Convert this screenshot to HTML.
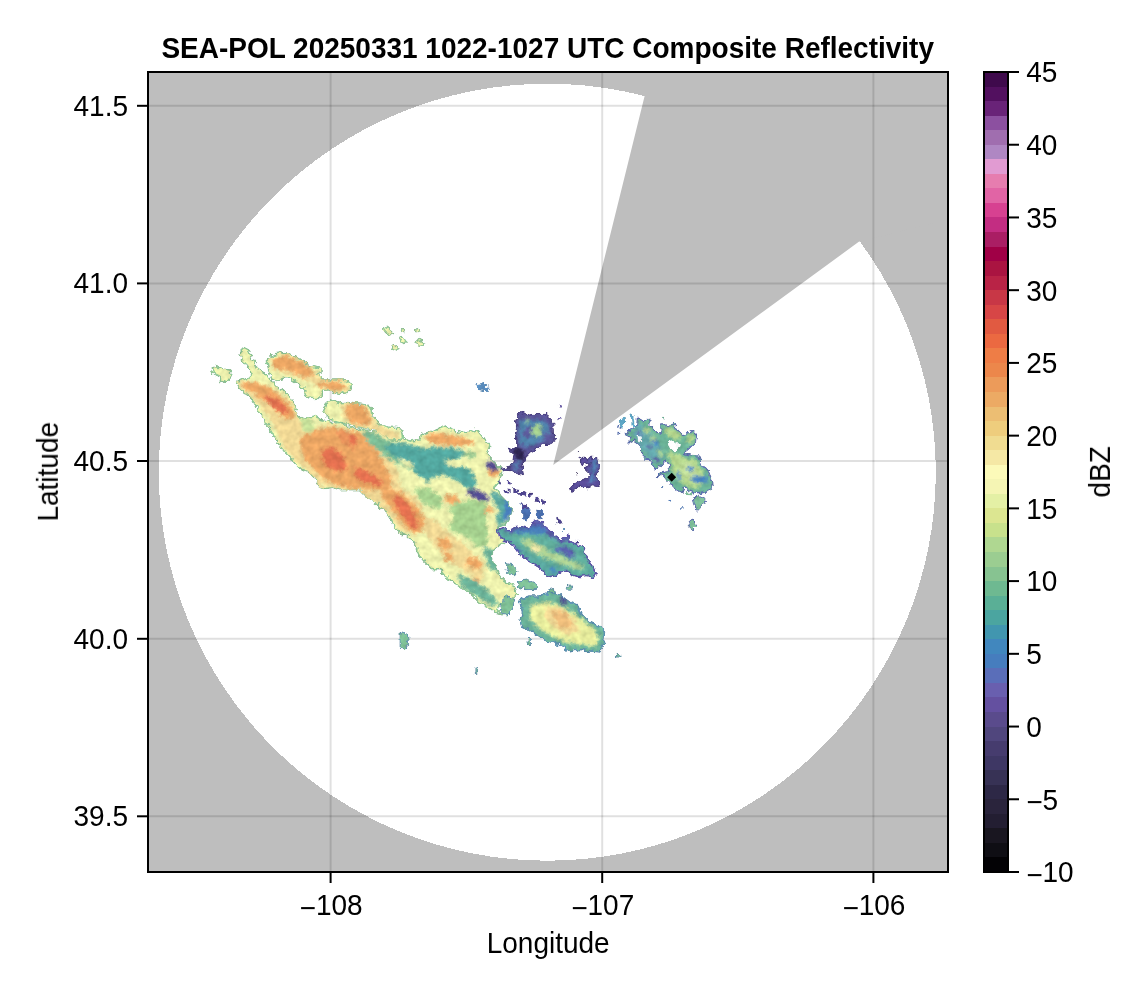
<!DOCTYPE html><html><head><meta charset="utf-8"><style>
html,body{margin:0;padding:0;background:#fff;}
body{width:1146px;height:990px;overflow:hidden;position:relative;}
svg{position:absolute;left:0;top:0;}
text{will-change:transform;}
text{font-family:"Liberation Sans",sans-serif;fill:#000;}
</style></head><body>
<svg width="1146" height="990" viewBox="0 0 1146 990">

<rect x="148" y="72" width="800" height="800" fill="#bebebe"/>
<clipPath id="axclip"><rect x="148" y="72" width="800" height="800"/></clipPath>
<g clip-path="url(#axclip)">
<circle cx="547.3" cy="472.2" r="388.5" fill="#fff" shape-rendering="crispEdges"/>
<polygon points="553.2,465.0 645.0,94.5 685.0,-105.5 1258.8,141.8 858.8,241.8" fill="#bebebe"/>
<line x1="148" y1="105.8" x2="948" y2="105.8" stroke="rgba(0,0,0,0.12)" stroke-width="2"/>
<line x1="148" y1="283.4" x2="948" y2="283.4" stroke="rgba(0,0,0,0.12)" stroke-width="2"/>
<line x1="148" y1="461.0" x2="948" y2="461.0" stroke="rgba(0,0,0,0.12)" stroke-width="2"/>
<line x1="148" y1="638.8" x2="948" y2="638.8" stroke="rgba(0,0,0,0.12)" stroke-width="2"/>
<line x1="148" y1="816.3" x2="948" y2="816.3" stroke="rgba(0,0,0,0.12)" stroke-width="2"/>
<line x1="330.6" y1="72" x2="330.6" y2="872" stroke="rgba(0,0,0,0.12)" stroke-width="2"/>
<line x1="602.2" y1="72" x2="602.2" y2="872" stroke="rgba(0,0,0,0.12)" stroke-width="2"/>
<line x1="873.4" y1="72" x2="873.4" y2="872" stroke="rgba(0,0,0,0.12)" stroke-width="2"/>
<filter id="rough" x="140" y="250" width="700" height="500" filterUnits="userSpaceOnUse"><feTurbulence type="fractalNoise" baseFrequency="0.22" numOctaves="2" seed="7" result="t"/><feDisplacementMap in="SourceGraphic" in2="t" scale="6.0" xChannelSelector="R" yChannelSelector="G" result="d"/><feTurbulence type="fractalNoise" baseFrequency="0.16" numOctaves="2" seed="11" result="n"/><feColorMatrix in="n" type="matrix" values="1 0 0 0 0  1 0 0 0 0  1 0 0 0 0  0 0 0 0 1" result="nm"/><feComposite in="d" in2="nm" operator="arithmetic" k1="0.5" k2="0.75" k3="0" k4="0" result="tx"/><feComposite in="tx" in2="d" operator="in"/></filter>
<g id="echoes" filter="url(#rough)">
<filter id="soft" x="-5%" y="-5%" width="110%" height="110%"><feGaussianBlur stdDeviation="1.6"/></filter>
<clipPath id="envclip"><polygon points="211.2,368.6 215.0,366.2 220.0,367.9 223.7,369.9 229.9,371.1 231.9,374.9 228.7,378.6 226.2,382.4 221.2,381.1 218.7,376.1 213.7,373.6"/><polygon points="236.2,382.4 241.2,379.9 248.7,378.6 252.4,374.9 249.9,369.9 244.9,363.7 241.2,357.4 238.7,352.4 243.7,347.4 248.7,349.9 251.2,357.4 254.9,362.4 258.6,369.9 263.6,372.4 267.4,376.1 272.4,382.4 277.4,387.4 282.4,389.9 286.1,393.6 289.8,397.3 293.6,403.6 296.1,409.8 298.6,416.1 302.3,419.8 307.3,417.3 314.8,416.1 322.3,419.8 328.5,421.1 332.3,423.6 339.8,422.3 349.7,427.3 362.2,429.8 374.7,432.3 387.2,429.8 397.2,428.5 402.1,432.3 403.4,438.5 409.6,441.0 419.6,439.8 422.1,433.5 429.6,432.3 437.1,428.5 445.8,426.0 452.1,429.8 459.5,432.3 469.5,432.3 477.0,429.8 484.9,440.0 489.8,445.0 487.3,455.0 494.8,462.5 502.3,469.9 499.8,479.9 494.8,486.2 499.8,494.9 507.3,502.4 512.3,509.9 509.8,517.4 504.8,524.9 497.3,527.3 502.3,534.8 504.8,542.3 494.8,547.3 492.3,557.3 494.8,564.8 499.8,574.8 504.8,582.3 512.3,584.7 517.3,594.7 509.8,599.7 504.8,602.2 499.8,604.7 497.3,609.7 502.3,614.7 507.3,614.7 494.8,612.2 487.3,606.0 479.9,602.2 472.4,594.7 464.9,589.7 459.9,587.2 449.9,579.8 444.9,576.0 439.9,569.8 432.4,569.8 425.0,562.3 418.7,554.8 415.0,544.8 410.0,537.3 400.0,532.3 397.2,529.6 392.2,524.6 389.7,517.1 384.7,509.7 379.7,507.2 375.9,503.4 369.7,499.7 364.7,494.7 359.7,489.7 349.7,489.7 339.8,489.7 332.3,487.2 324.8,488.4 319.8,487.2 317.3,482.2 313.6,477.2 311.1,474.7 307.3,471.0 299.8,468.5 296.1,464.7 289.8,457.2 284.9,452.3 279.9,446.0 276.1,439.8 272.4,433.5 268.6,427.3 263.6,419.8 259.9,412.3 256.2,406.1 251.2,398.6 247.4,394.9 242.4,391.1 238.7,387.4"/><polygon points="267.4,358.7 274.9,353.7 284.9,352.4 292.3,354.9 298.6,358.7 304.8,362.4 311.1,366.2 316.0,367.4 321.0,368.6 321.0,372.4 317.3,373.6 322.3,379.9 332.3,379.9 343.5,379.9 349.7,382.4 351.0,388.6 347.2,392.4 339.8,393.6 329.8,391.1 322.3,389.9 322.3,396.1 317.3,398.6 309.8,398.6 304.8,394.9 304.8,389.9 299.8,384.9 296.1,382.4 288.6,377.4 282.4,378.6 274.9,381.1 271.1,377.4 268.6,369.9 267.4,363.7"/><polygon points="323.5,411.1 327.3,402.3 332.3,399.8 338.5,403.6 344.7,402.3 354.7,403.6 366.0,404.8 372.2,407.3 372.2,414.8 375.9,419.8 379.7,424.8 389.7,427.3 397.2,427.3 402.1,429.8 403.4,437.3 397.2,441.0 389.7,439.8 384.7,434.8 374.7,429.8 364.7,428.5 354.7,426.0 349.7,424.8 339.8,422.3 332.3,419.8 326.0,416.1"/><polygon points="383.4,328.7 387.2,327.0 392.2,331.2 394.7,333.7 390.9,335.0 385.9,333.0"/><polygon points="399.7,338.0 402.6,337.0 405.9,341.2 404.1,343.7 400.9,341.2"/><polygon points="415.9,341.2 419.6,339.4 424.6,341.9 423.4,345.4 418.4,344.9"/><polygon points="390.9,346.2 394.2,344.9 398.4,348.7 396.7,351.2 392.7,349.4"/><polygon points="414.6,329.5 417.6,328.5 419.6,332.0 416.6,333.0"/><polygon points="400.9,330.5 402.6,329.0 404.1,332.0 402.1,333.0"/><polygon points="517.2,413.9 522.2,412.2 526.7,415.6 532.2,414.4 547.8,414.4 548.3,417.8 552.8,422.2 553.3,433.3 556.1,436.7 553.3,442.2 548.9,444.4 543.3,444.4 537.8,447.8 531.1,451.1 527.8,454.4 525.6,456.7 524.4,460.0 522.2,466.7 523.3,474.4 521.1,475.6 516.7,473.3 513.3,471.1 510.0,469.4 504.4,471.1 501.1,469.4 505.6,468.3 511.1,466.7 512.8,462.2 514.4,452.2 510.0,452.2 508.3,446.7 513.3,448.9 516.7,446.7 516.7,438.9 515.6,432.2 516.7,425.6 514.4,421.1 517.8,418.9"/><polygon points="580.0,457.8 584.4,456.1 587.2,460.0 590.0,457.2 596.7,457.8 597.2,462.2 599.4,466.7 597.8,472.2 595.6,476.7 600.6,483.3 597.8,486.7 591.1,485.6 586.7,488.9 584.4,486.7 580.0,486.7 575.6,488.9 571.1,491.1 570.6,487.8 573.3,484.4 577.8,482.2 582.2,480.0 586.7,477.8 590.0,474.4 585.6,470.0 584.4,467.8 588.9,465.6 591.1,462.2 586.7,463.3 582.2,465.6 580.6,462.2"/><polygon points="637.2,417.2 642.2,420.6 650.0,420.0 650.0,425.6 657.8,432.2 661.1,433.3 660.6,423.9 663.9,423.9 667.2,426.7 673.3,423.3 677.8,430.0 683.3,435.6 687.8,433.3 693.3,431.1 696.7,434.4 695.6,442.2 688.9,448.9 683.3,453.3 691.1,455.0 698.9,456.1 700.6,462.2 705.0,467.8 710.0,473.9 711.7,480.0 712.2,487.8 704.4,492.2 697.8,493.9 691.1,490.6 684.4,487.8 682.2,493.3 676.7,490.0 671.1,484.4 666.7,480.0 662.2,474.4 656.1,477.2 660.0,472.8 667.8,471.7 670.0,466.7 666.7,461.1 660.0,465.6 654.4,470.0 654.4,465.6 651.1,460.0 643.3,458.9 644.4,455.6 641.1,451.1 642.2,447.8 637.8,443.3 633.3,440.0 631.1,443.3 628.9,441.1 630.0,436.7 624.4,434.4 628.9,431.1 633.3,428.3 636.7,425.6"/><polygon points="693.3,497.8 700.0,496.7 706.7,500.0 703.3,504.4 700.0,510.0 696.7,510.0 694.4,503.3"/><polygon points="688.6,520.9 693.1,519.6 696.1,525.9 692.6,529.6 689.4,527.1"/><polygon points="503.3,527.8 508.9,530.0 514.4,527.8 522.2,526.7 528.3,528.3 531.1,523.3 537.8,521.1 543.3,522.2 545.6,527.8 551.1,532.2 556.7,536.7 561.1,540.0 567.8,535.6 570.0,541.1 578.9,545.6 583.3,547.8 584.4,553.3 587.8,560.0 593.3,567.8 596.1,573.3 593.3,577.8 586.7,575.6 578.9,576.7 570.0,574.4 567.8,570.0 561.1,571.1 556.7,574.4 551.1,577.8 545.6,574.4 542.2,570.0 537.8,566.7 532.2,563.3 528.9,560.0 523.3,557.8 518.9,552.2 515.6,547.8 510.0,542.2 504.4,540.0 500.0,536.7 496.7,531.1 498.9,528.9"/><polygon points="506.1,563.5 513.6,564.8 517.3,571.0 513.6,576.0 507.3,572.3"/><polygon points="517.3,581.0 527.3,579.8 538.5,584.7 537.3,589.7 524.8,589.7 518.5,587.2"/><polygon points="499.8,602.2 507.3,596.0 514.8,599.7 512.3,609.7 507.3,614.7 502.3,612.2"/><polygon points="400.0,632.2 407.5,634.7 408.7,644.6 405.0,649.6 400.0,647.1"/><polygon points="548.5,589.7 553.5,588.5 554.7,594.7 549.7,596.0"/><polygon points="567.2,586.0 573.4,586.0 573.4,589.2 567.2,589.2"/><polygon points="474.9,668.4 477.9,667.6 477.9,673.3 474.9,673.3"/><polygon points="528.0,639.7 530.3,639.2 530.5,644.6 528.0,644.6"/><polygon points="615.9,652.1 619.6,653.4 620.1,657.1 616.6,657.1"/><polygon points="519.8,599.7 529.8,596.0 539.8,596.0 549.7,592.2 559.7,594.7 569.7,602.2 577.2,604.7 582.2,614.7 589.7,622.2 599.7,625.9 604.6,632.2 603.4,644.6 599.7,652.1 589.7,650.9 579.7,649.6 569.7,652.1 559.7,644.6 549.7,642.1 539.8,638.4 534.8,634.7 529.8,629.7 522.3,627.2 519.8,619.7 522.3,612.2"/></clipPath>
<polygon fill="#eef2ae" stroke="#8cc494" stroke-width="1.5" stroke-linejoin="round" points="211.2,368.6 215.0,366.2 220.0,367.9 223.7,369.9 229.9,371.1 231.9,374.9 228.7,378.6 226.2,382.4 221.2,381.1 218.7,376.1 213.7,373.6"/>
<polygon fill="#eef2ae" stroke="#8cc494" stroke-width="1.5" stroke-linejoin="round" points="236.2,382.4 241.2,379.9 248.7,378.6 252.4,374.9 249.9,369.9 244.9,363.7 241.2,357.4 238.7,352.4 243.7,347.4 248.7,349.9 251.2,357.4 254.9,362.4 258.6,369.9 263.6,372.4 267.4,376.1 272.4,382.4 277.4,387.4 282.4,389.9 286.1,393.6 289.8,397.3 293.6,403.6 296.1,409.8 298.6,416.1 302.3,419.8 307.3,417.3 314.8,416.1 322.3,419.8 328.5,421.1 332.3,423.6 339.8,422.3 349.7,427.3 362.2,429.8 374.7,432.3 387.2,429.8 397.2,428.5 402.1,432.3 403.4,438.5 409.6,441.0 419.6,439.8 422.1,433.5 429.6,432.3 437.1,428.5 445.8,426.0 452.1,429.8 459.5,432.3 469.5,432.3 477.0,429.8 484.9,440.0 489.8,445.0 487.3,455.0 494.8,462.5 502.3,469.9 499.8,479.9 494.8,486.2 499.8,494.9 507.3,502.4 512.3,509.9 509.8,517.4 504.8,524.9 497.3,527.3 502.3,534.8 504.8,542.3 494.8,547.3 492.3,557.3 494.8,564.8 499.8,574.8 504.8,582.3 512.3,584.7 517.3,594.7 509.8,599.7 504.8,602.2 499.8,604.7 497.3,609.7 502.3,614.7 507.3,614.7 494.8,612.2 487.3,606.0 479.9,602.2 472.4,594.7 464.9,589.7 459.9,587.2 449.9,579.8 444.9,576.0 439.9,569.8 432.4,569.8 425.0,562.3 418.7,554.8 415.0,544.8 410.0,537.3 400.0,532.3 397.2,529.6 392.2,524.6 389.7,517.1 384.7,509.7 379.7,507.2 375.9,503.4 369.7,499.7 364.7,494.7 359.7,489.7 349.7,489.7 339.8,489.7 332.3,487.2 324.8,488.4 319.8,487.2 317.3,482.2 313.6,477.2 311.1,474.7 307.3,471.0 299.8,468.5 296.1,464.7 289.8,457.2 284.9,452.3 279.9,446.0 276.1,439.8 272.4,433.5 268.6,427.3 263.6,419.8 259.9,412.3 256.2,406.1 251.2,398.6 247.4,394.9 242.4,391.1 238.7,387.4"/>
<polygon fill="#eef2ae" stroke="#8cc494" stroke-width="1.5" stroke-linejoin="round" points="267.4,358.7 274.9,353.7 284.9,352.4 292.3,354.9 298.6,358.7 304.8,362.4 311.1,366.2 316.0,367.4 321.0,368.6 321.0,372.4 317.3,373.6 322.3,379.9 332.3,379.9 343.5,379.9 349.7,382.4 351.0,388.6 347.2,392.4 339.8,393.6 329.8,391.1 322.3,389.9 322.3,396.1 317.3,398.6 309.8,398.6 304.8,394.9 304.8,389.9 299.8,384.9 296.1,382.4 288.6,377.4 282.4,378.6 274.9,381.1 271.1,377.4 268.6,369.9 267.4,363.7"/>
<polygon fill="#eef2ae" stroke="#8cc494" stroke-width="1.5" stroke-linejoin="round" points="323.5,411.1 327.3,402.3 332.3,399.8 338.5,403.6 344.7,402.3 354.7,403.6 366.0,404.8 372.2,407.3 372.2,414.8 375.9,419.8 379.7,424.8 389.7,427.3 397.2,427.3 402.1,429.8 403.4,437.3 397.2,441.0 389.7,439.8 384.7,434.8 374.7,429.8 364.7,428.5 354.7,426.0 349.7,424.8 339.8,422.3 332.3,419.8 326.0,416.1"/>
<polygon fill="#eef2ae" stroke="#8cc494" stroke-width="1.2" stroke-linejoin="round" points="383.4,328.7 387.2,327.0 392.2,331.2 394.7,333.7 390.9,335.0 385.9,333.0"/>
<polygon fill="#eef2ae" stroke="#8cc494" stroke-width="1.2" stroke-linejoin="round" points="399.7,338.0 402.6,337.0 405.9,341.2 404.1,343.7 400.9,341.2"/>
<polygon fill="#eef2ae" stroke="#8cc494" stroke-width="1.2" stroke-linejoin="round" points="415.9,341.2 419.6,339.4 424.6,341.9 423.4,345.4 418.4,344.9"/>
<polygon fill="#eef2ae" stroke="#8cc494" stroke-width="1.2" stroke-linejoin="round" points="390.9,346.2 394.2,344.9 398.4,348.7 396.7,351.2 392.7,349.4"/>
<polygon fill="#eef2ae" stroke="#8cc494" stroke-width="1.2" stroke-linejoin="round" points="414.6,329.5 417.6,328.5 419.6,332.0 416.6,333.0"/>
<polygon fill="#eef2ae" stroke="#8cc494" stroke-width="1.2" stroke-linejoin="round" points="400.9,330.5 402.6,329.0 404.1,332.0 402.1,333.0"/>
<polygon fill="#5a5498" stroke="#4a3f80" stroke-width="1.2" stroke-linejoin="round" points="517.2,413.9 522.2,412.2 526.7,415.6 532.2,414.4 547.8,414.4 548.3,417.8 552.8,422.2 553.3,433.3 556.1,436.7 553.3,442.2 548.9,444.4 543.3,444.4 537.8,447.8 531.1,451.1 527.8,454.4 525.6,456.7 524.4,460.0 522.2,466.7 523.3,474.4 521.1,475.6 516.7,473.3 513.3,471.1 510.0,469.4 504.4,471.1 501.1,469.4 505.6,468.3 511.1,466.7 512.8,462.2 514.4,452.2 510.0,452.2 508.3,446.7 513.3,448.9 516.7,446.7 516.7,438.9 515.6,432.2 516.7,425.6 514.4,421.1 517.8,418.9"/>
<polygon fill="#5a4e9a" stroke="#4a3f80" stroke-width="1.2" stroke-linejoin="round" points="580.0,457.8 584.4,456.1 587.2,460.0 590.0,457.2 596.7,457.8 597.2,462.2 599.4,466.7 597.8,472.2 595.6,476.7 600.6,483.3 597.8,486.7 591.1,485.6 586.7,488.9 584.4,486.7 580.0,486.7 575.6,488.9 571.1,491.1 570.6,487.8 573.3,484.4 577.8,482.2 582.2,480.0 586.7,477.8 590.0,474.4 585.6,470.0 584.4,467.8 588.9,465.6 591.1,462.2 586.7,463.3 582.2,465.6 580.6,462.2"/>
<polygon fill="#6cb498" stroke="#5a6ab0" stroke-width="1.2" stroke-linejoin="round" points="637.2,417.2 642.2,420.6 650.0,420.0 650.0,425.6 657.8,432.2 661.1,433.3 660.6,423.9 663.9,423.9 667.2,426.7 673.3,423.3 677.8,430.0 683.3,435.6 687.8,433.3 693.3,431.1 696.7,434.4 695.6,442.2 688.9,448.9 683.3,453.3 691.1,455.0 698.9,456.1 700.6,462.2 705.0,467.8 710.0,473.9 711.7,480.0 712.2,487.8 704.4,492.2 697.8,493.9 691.1,490.6 684.4,487.8 682.2,493.3 676.7,490.0 671.1,484.4 666.7,480.0 662.2,474.4 656.1,477.2 660.0,472.8 667.8,471.7 670.0,466.7 666.7,461.1 660.0,465.6 654.4,470.0 654.4,465.6 651.1,460.0 643.3,458.9 644.4,455.6 641.1,451.1 642.2,447.8 637.8,443.3 633.3,440.0 631.1,443.3 628.9,441.1 630.0,436.7 624.4,434.4 628.9,431.1 633.3,428.3 636.7,425.6"/>
<polygon fill="#7cbc98" stroke="#5a6ab0" stroke-width="1" stroke-linejoin="round" points="693.3,497.8 700.0,496.7 706.7,500.0 703.3,504.4 700.0,510.0 696.7,510.0 694.4,503.3"/>
<polygon fill="#7cbc98" stroke="#5a6ab0" stroke-width="1" stroke-linejoin="round" points="688.6,520.9 693.1,519.6 696.1,525.9 692.6,529.6 689.4,527.1"/>
<polygon fill="#5aa8a0" stroke="#5a50a8" stroke-width="1.5" stroke-linejoin="round" points="503.3,527.8 508.9,530.0 514.4,527.8 522.2,526.7 528.3,528.3 531.1,523.3 537.8,521.1 543.3,522.2 545.6,527.8 551.1,532.2 556.7,536.7 561.1,540.0 567.8,535.6 570.0,541.1 578.9,545.6 583.3,547.8 584.4,553.3 587.8,560.0 593.3,567.8 596.1,573.3 593.3,577.8 586.7,575.6 578.9,576.7 570.0,574.4 567.8,570.0 561.1,571.1 556.7,574.4 551.1,577.8 545.6,574.4 542.2,570.0 537.8,566.7 532.2,563.3 528.9,560.0 523.3,557.8 518.9,552.2 515.6,547.8 510.0,542.2 504.4,540.0 500.0,536.7 496.7,531.1 498.9,528.9"/>
<polygon fill="#7fc096" stroke="#5c8fb0" stroke-width="1" stroke-linejoin="round" points="506.1,563.5 513.6,564.8 517.3,571.0 513.6,576.0 507.3,572.3"/>
<polygon fill="#7fc096" stroke="#5c8fb0" stroke-width="1" stroke-linejoin="round" points="517.3,581.0 527.3,579.8 538.5,584.7 537.3,589.7 524.8,589.7 518.5,587.2"/>
<polygon fill="#7fc096" stroke="#5c8fb0" stroke-width="1" stroke-linejoin="round" points="499.8,602.2 507.3,596.0 514.8,599.7 512.3,609.7 507.3,614.7 502.3,612.2"/>
<polygon fill="#7fc096" stroke="#5c8fb0" stroke-width="1" stroke-linejoin="round" points="400.0,632.2 407.5,634.7 408.7,644.6 405.0,649.6 400.0,647.1"/>
<polygon fill="#7fc096" stroke="#5c8fb0" stroke-width="1" stroke-linejoin="round" points="548.5,589.7 553.5,588.5 554.7,594.7 549.7,596.0"/>
<polygon fill="#7fc096" stroke="#5c8fb0" stroke-width="1" stroke-linejoin="round" points="567.2,586.0 573.4,586.0 573.4,589.2 567.2,589.2"/>
<polygon fill="#7fc096" stroke="#5c8fb0" stroke-width="1" stroke-linejoin="round" points="474.9,668.4 477.9,667.6 477.9,673.3 474.9,673.3"/>
<polygon fill="#7fc096" stroke="#5c8fb0" stroke-width="1" stroke-linejoin="round" points="528.0,639.7 530.3,639.2 530.5,644.6 528.0,644.6"/>
<polygon fill="#7fc096" stroke="#5c8fb0" stroke-width="1" stroke-linejoin="round" points="615.9,652.1 619.6,653.4 620.1,657.1 616.6,657.1"/>
<polygon fill="#6cb49a" stroke="#5a8fb0" stroke-width="1.5" stroke-linejoin="round" points="519.8,599.7 529.8,596.0 539.8,596.0 549.7,592.2 559.7,594.7 569.7,602.2 577.2,604.7 582.2,614.7 589.7,622.2 599.7,625.9 604.6,632.2 603.4,644.6 599.7,652.1 589.7,650.9 579.7,649.6 569.7,652.1 559.7,644.6 549.7,642.1 539.8,638.4 534.8,634.7 529.8,629.7 522.3,627.2 519.8,619.7 522.3,612.2"/>
<g clip-path="url(#envclip)"><g filter="url(#soft)">
<polygon fill="#f0d894" points="269.9,359.9 284.9,354.4 297.3,358.7 309.8,366.2 317.3,372.4 317.3,376.1 324.8,381.1 344.7,381.1 349.2,386.1 346.0,391.9 329.8,390.4 317.3,387.4 307.3,381.1 297.3,377.4 284.9,373.6 273.6,369.9"/>
<polygon fill="#f0d894" points="237.4,382.9 249.9,380.4 262.4,383.6 274.9,389.9 286.1,397.3 294.8,408.6 298.6,419.8 309.8,427.3 329.8,424.8 349.7,428.5 369.7,434.8 384.7,449.8 397.2,469.7 399.7,484.7 412.1,504.7 419.6,519.6 417.1,534.6 399.7,529.6 389.7,514.6 379.7,504.7 362.2,494.7 339.8,489.7 319.8,484.7 309.8,472.2 294.8,459.7 282.4,444.8 274.9,427.3 267.4,414.8 257.4,402.3 247.4,392.4"/>
<polygon fill="#f0d894" points="341.0,403.6 359.7,404.8 371.0,412.3 374.7,423.6 389.7,429.8 399.7,434.8 397.2,439.8 384.7,436.0 369.7,429.8 349.7,424.8 342.3,417.3"/>
<polygon fill="#f0d894" points="430.0,433.3 443.3,431.7 456.7,435.0 470.0,438.3 476.7,443.3 466.7,446.7 450.0,445.8 436.7,445.0"/>
<polygon fill="#f0d894" points="388.3,488.3 405.0,490.0 420.0,503.3 426.7,516.7 423.3,531.7 413.3,531.7 403.3,526.7 396.7,516.7 390.0,503.3"/>
<polygon fill="#f0d894" points="420.0,514.9 434.9,519.9 449.9,534.8 464.9,544.8 474.9,557.3 484.9,569.8 482.4,579.8 469.9,574.8 454.9,564.8 439.9,552.3 429.9,539.8 422.5,527.3"/>
<polygon fill="#eba664" points="272.4,358.7 284.9,354.9 294.8,358.7 304.8,363.7 312.3,369.9 314.8,374.9 307.3,377.4 299.8,376.1 292.3,371.1 282.4,369.9 274.9,368.6"/>
<polygon fill="#eba664" points="317.3,382.4 329.8,381.1 342.3,382.4 347.2,387.4 339.8,391.1 327.3,388.6 319.8,386.1"/>
<polygon fill="#eba664" points="239.9,383.6 249.9,382.4 259.9,383.6 269.9,387.4 279.9,394.9 287.3,402.3 293.6,409.8 294.8,417.3 287.3,419.8 279.9,414.8 272.4,407.3 262.4,399.8 252.4,392.4 243.7,388.6"/>
<polygon fill="#eba664" points="350.0,430.0 360.0,431.7 370.0,443.3 380.0,455.0 385.0,470.0 386.7,483.3 378.3,486.7 366.7,483.3 356.7,478.3 350.0,473.3"/>
<polygon fill="#eba664" points="390.0,490.0 400.0,490.8 410.0,500.0 420.0,510.0 425.0,521.7 421.7,531.7 411.7,530.0 403.3,523.3 396.7,513.3 391.7,501.7"/>
<polygon fill="#eba664" points="350.0,401.7 360.0,403.3 368.3,410.0 370.0,420.0 363.3,423.3 355.0,420.0 350.0,415.0"/>
<polygon fill="#eba664" points="436.7,435.8 450.0,436.7 463.3,439.2 470.0,441.7 465.0,445.0 450.0,444.2 438.3,442.5"/>
<polygon fill="#eba664" points="445.0,495.0 456.7,495.0 460.0,501.7 451.7,504.2 445.0,501.7"/>
<polygon fill="#eba664" points="478.3,505.0 490.0,506.7 493.3,511.7 483.3,513.3 478.3,510.0"/>
<polygon fill="#eba664" points="486.7,470.0 498.3,470.0 500.0,475.8 491.7,477.5"/>
<polygon fill="#eba664" points="346.0,406.1 359.7,407.3 368.5,414.8 371.0,423.6 362.2,426.0 349.7,421.8 346.0,414.8"/>
<polygon fill="#eba664" points="379.7,484.7 389.7,487.2 399.7,494.7 409.6,504.7 419.6,517.1 422.1,529.6 414.6,534.6 404.6,527.1 397.2,517.1 389.7,507.2 382.2,497.2"/>
<polygon fill="#eba664" points="304.8,434.8 317.3,429.8 332.3,427.3 344.7,429.8 354.7,436.0 364.7,444.8 374.7,454.7 384.7,464.7 392.2,479.7 389.7,489.7 379.7,489.7 364.7,489.7 349.7,488.4 334.8,484.7 324.8,479.7 314.8,469.7 304.8,459.7 301.1,449.8 299.8,439.8"/>
<polygon fill="#eba664" points="424.6,434.8 439.6,433.5 459.5,437.3 474.5,439.8 472.0,444.8 449.6,446.0 429.6,442.3"/>
<polygon fill="#e8935c" points="337.3,429.8 349.7,432.3 357.2,442.3 354.7,449.8 344.7,444.8 338.5,437.3"/>
<polygon fill="#eba664" points="437.7,538.3 447.7,537.5 451.8,546.7 446.0,550.8 438.5,546.7"/>
<polygon fill="#eba664" points="466.0,558.3 479.3,557.5 483.5,565.8 474.3,569.2 466.8,565.0"/>
<polygon fill="#eba664" points="467.7,578.3 477.7,577.5 480.2,584.2 471.0,585.8"/>
<polygon fill="#eba664" points="442.7,553.3 451.0,552.5 453.5,560.8 446.0,562.5"/>
<polygon fill="#e2704f" points="264.9,394.9 274.9,397.3 284.9,404.8 289.8,412.3 282.4,413.6 272.4,407.3 266.1,401.1"/>
<polygon fill="#e2704f" points="355.0,466.7 366.7,471.7 378.3,478.3 383.3,485.0 375.0,485.8 363.3,481.7 355.0,476.7"/>
<polygon fill="#e2704f" points="350.0,433.3 355.0,435.0 356.7,443.3 350.0,445.0"/>
<polygon fill="#e2704f" points="393.3,495.0 401.7,498.3 408.3,506.7 411.7,516.7 406.7,520.0 400.0,513.3 395.0,503.3"/>
<polygon fill="#e2704f" points="399.7,497.2 407.1,502.2 414.6,514.6 418.4,527.1 412.1,529.6 404.6,517.1 399.7,507.2"/>
<polygon fill="#e2704f" points="322.3,449.8 332.3,447.3 342.3,454.7 347.2,467.2 339.8,472.2 327.3,467.2 322.3,459.7"/>
<polygon fill="#e2704f" points="357.2,469.7 369.7,472.2 379.7,479.7 377.2,484.7 364.7,482.2 358.5,476.0"/>
<polygon fill="#a6d18f" points="416.7,490.0 426.7,488.3 436.7,493.3 443.3,503.3 440.0,510.0 430.0,506.7 420.0,500.0"/>
<polygon fill="#a6d18f" points="460.0,510.0 471.7,508.3 483.3,516.7 488.3,530.0 486.7,546.7 476.7,546.7 466.7,536.7 456.7,533.3 450.0,530.0 450.0,523.3 458.3,520.0"/>
<polygon fill="#a6d18f" points="449.6,504.7 469.5,499.7 486.0,502.2 486.0,544.6 469.5,539.6 454.6,527.1"/>
<polygon fill="#a6d18f" points="415.0,487.4 429.9,488.7 442.4,497.4 437.4,506.1 422.5,503.6"/>
<polygon fill="#c6e09a" points="300.0,418.3 310.0,417.5 315.0,426.7 311.7,433.3 303.3,431.7"/>
<polygon fill="#5aa8a0" points="489.3,491.7 496.0,493.3 511.0,503.3 512.7,513.3 504.3,523.3 499.3,526.7 496.0,521.7 499.3,511.7 494.3,501.7"/>
<polygon fill="#7cbd96" points="363.3,430.0 373.3,431.7 383.3,438.3 391.7,443.3 391.7,450.0 400.0,456.7 408.3,463.3 415.0,466.7 413.3,470.0 403.3,466.7 393.3,461.7 383.3,455.0 373.3,446.7 365.0,438.3"/>
<polygon fill="#52a8a0" points="391.7,443.3 405.0,443.3 416.7,446.7 426.7,448.3 436.7,446.7 450.0,448.3 463.3,450.0 466.7,453.3 456.7,460.0 443.3,460.0 450.0,466.7 463.3,466.7 470.0,470.0 473.3,475.0 476.7,483.3 473.3,490.0 466.7,488.3 456.7,480.0 450.0,476.7 440.0,475.0 430.0,478.3 428.3,483.3 423.3,478.3 415.0,473.3 413.3,466.7 405.0,463.3 396.7,458.3 388.3,451.7 383.3,446.7"/>
<polygon fill="#eef2ae" points="445.0,462.0 453.3,461.3 460.0,464.2 458.3,466.3 450.0,465.8"/>
<polygon fill="#9ccc94" points="463.3,452.5 470.0,450.8 476.7,455.0 473.3,458.3 466.7,457.5"/>
<polygon fill="#eef2ae" points="400.0,458.3 410.0,461.7 415.0,466.7 406.7,466.7 398.3,461.7"/>
<polygon fill="#4a80c0" points="502.7,498.3 511.0,503.3 512.7,513.3 506.0,521.7 502.7,516.7 506.0,508.3"/>
<polygon fill="#4f4790" points="466.7,490.0 476.7,490.0 486.7,495.0 490.0,500.0 483.3,501.7 473.3,496.7 466.7,493.3"/>
<polygon fill="#4f4790" points="491.7,462.5 496.7,464.2 497.5,467.5 492.5,466.7"/>
<polygon fill="#4f4790" points="487.3,460.0 494.8,463.7 498.6,469.9 492.3,471.2 486.1,466.2"/>
<polygon fill="#6cb49a" points="457.4,574.8 474.9,579.8 489.8,592.2 499.8,604.7 489.8,604.7 474.9,594.7 462.4,587.2"/>
<polygon fill="#6cb49a" points="482.4,547.3 494.8,549.8 499.8,569.8 489.8,569.8"/>
<polygon fill="#4f84ac" points="520.0,421.1 526.7,418.9 533.3,420.0 542.2,420.0 548.9,424.4 550.0,433.3 546.7,440.0 540.0,442.2 532.2,445.6 526.7,446.7 521.1,444.4 518.3,436.7 518.9,428.9"/>
<polygon fill="#5d5a9e" points="524.4,427.8 530.0,426.7 532.2,433.3 528.9,437.8 523.3,436.7"/>
<polygon fill="#5d5a9e" points="542.2,433.3 548.9,432.2 551.1,437.8 545.6,441.1"/>
<polygon fill="#a8d490" points="532.2,426.7 537.8,424.4 542.2,427.8 540.6,435.6 535.6,436.7 532.2,433.3"/>
<polygon fill="#98cc90" points="525.0,418.9 527.8,418.3 528.9,421.7 526.1,422.8"/>
<polygon fill="#2e2852" points="513.3,447.8 518.9,446.7 524.4,452.2 525.6,457.8 522.2,462.2 516.7,460.0 514.4,454.4"/>
<polygon fill="#4f7caa" points="513.3,462.2 518.9,462.2 520.0,467.8 516.7,470.0 513.3,467.8"/>
<polygon fill="#4f86b4" points="591.1,460.0 595.6,460.6 596.7,466.7 594.4,473.3 594.4,480.0 592.2,484.4 588.9,482.2 591.1,476.7 592.2,468.9"/>
<polygon fill="#64a8ac" points="637.8,422.2 642.2,424.4 647.8,428.9 652.2,435.6 657.8,442.2 662.2,448.9 664.4,457.8 660.0,462.2 653.3,462.2 646.7,455.6 642.2,448.9 636.7,442.2 633.3,435.6 635.6,428.9"/>
<polygon fill="#b0d490" points="643.3,427.8 647.8,427.2 650.0,432.2 646.7,434.4 643.9,432.2"/>
<polygon fill="#b0d490" points="650.0,436.7 654.4,435.6 656.7,441.1 653.3,443.3 650.6,441.1"/>
<polygon fill="#a8d090" points="657.8,448.9 662.2,450.0 663.3,455.6 658.9,456.7"/>
<polygon fill="#6050a8" points="636.7,428.9 640.0,431.1 641.1,435.6 638.9,436.7"/>
<polygon fill="#6050a8" points="646.7,444.4 651.1,446.7 652.2,448.9 647.8,448.3"/>
<polygon fill="#6050a8" points="652.2,456.7 657.8,457.8 658.9,462.2 654.4,461.1"/>
<polygon fill="#b6d88e" points="664.4,428.9 671.1,426.7 677.8,432.2 682.2,437.8 677.8,440.0 671.1,437.8 666.7,435.6"/>
<polygon fill="#b6d88e" points="666.7,452.2 675.6,452.2 682.2,456.7 688.9,458.9 695.6,460.0 700.0,466.7 704.4,473.3 703.3,480.0 697.8,488.9 691.1,487.8 684.4,484.4 677.8,480.0 673.3,473.3 671.1,464.4"/>
<polygon fill="#b6d88e" points="687.8,435.6 693.3,433.3 694.4,440.0 690.0,444.4 686.7,442.2"/>
<polygon fill="#c8e4a0" points="682.2,462.2 688.9,462.2 695.6,466.7 697.8,475.6 693.3,480.0 686.7,477.8 682.2,471.1"/>
<polygon fill="#4a86c6" points="691.1,476.7 706.7,475.6 707.8,482.2 700.0,483.3 692.2,482.2"/>
<polygon fill="#4a86c6" points="686.7,466.7 693.3,466.1 693.9,471.1 688.9,472.8"/>
<polygon fill="#4a86c6" points="676.7,472.2 680.0,471.1 680.6,478.9 677.8,480.0"/>
<polygon fill="#4a86c6" points="653.3,438.9 657.8,440.0 658.9,446.7 654.4,445.6"/>
<polygon fill="#5a50a8" points="503.3,527.8 508.9,530.0 514.4,527.8 522.2,526.7 528.3,528.3 531.1,523.3 537.8,521.1 543.3,522.2 545.6,527.8 551.1,532.2 556.7,536.7 561.1,540.0 567.8,535.6 570.0,541.1 561.1,542.2 552.2,537.8 543.3,532.2 534.4,530.0 523.3,531.1 512.2,532.2 504.4,532.2"/>
<polygon fill="#4a80bc" points="514.4,530.0 523.3,528.9 530.0,527.8 536.7,525.6 543.3,526.7 547.8,532.2 542.2,534.4 532.2,533.3 523.3,534.4 515.6,534.4"/>
<polygon fill="#62b09e" points="510.0,534.4 521.1,533.3 532.2,534.4 543.3,536.7 552.2,541.1 561.1,545.6 570.0,550.0 578.9,552.2 585.6,558.9 591.1,568.9 587.8,574.4 578.9,573.3 570.0,571.1 561.1,567.8 552.2,565.6 543.3,561.1 534.4,556.7 525.6,552.2 517.8,545.6 512.2,540.0"/>
<polygon fill="#b0d494" points="521.1,540.0 527.8,538.3 536.7,543.3 545.6,547.8 552.2,552.8 561.1,555.6 570.0,559.4 578.9,563.9 584.4,567.8 581.1,570.0 574.4,568.3 565.6,565.6 556.7,562.2 547.8,558.9 538.9,554.4 530.0,550.0 524.4,544.4"/>
<polygon fill="#f0e8a8" points="531.1,545.6 537.8,544.4 541.1,550.0 536.7,553.3 532.2,551.1"/>
<polygon fill="#5a60b0" points="555.6,546.7 563.3,545.6 572.2,550.0 575.6,556.7 570.0,557.8 562.2,553.3 556.7,551.1"/>
<polygon fill="#4a86c6" points="550.0,567.8 555.6,567.8 556.1,572.8 551.1,573.3"/>
<polygon fill="#4a60b0" points="515.6,547.8 520.0,548.9 522.2,552.2 517.8,552.2"/>
<polygon fill="#e8ee9e" points="529.8,604.7 549.7,602.2 564.7,607.2 579.7,617.2 592.2,627.2 599.7,637.2 594.7,647.1 579.7,644.6 564.7,642.1 549.7,634.7 537.3,627.2 529.8,617.2"/>
<polygon fill="#f0d894" points="544.7,607.2 562.2,607.2 574.7,619.7 579.7,632.2 567.2,634.7 552.2,627.2 544.7,617.2"/>
<polygon fill="#eebd7c" points="552.2,609.7 564.7,612.2 572.2,622.2 569.7,629.7 559.7,627.2 553.5,619.7"/>
<polygon fill="#4f4790" points="559.7,596.0 566.0,597.2 567.2,603.5 562.2,604.7"/>
</g></g>
<polygon fill="#6a5ca8" points="557.8,404.4 560.6,405.0 560.9,407.8 558.3,407.6"/>
<polygon fill="#6a5ca8" points="557.8,417.8 560.2,418.3 561.1,421.1 558.7,420.6"/>
<polygon fill="#2e2852" points="575.6,472.2 578.3,472.2 578.9,475.0 576.1,475.6"/>
<polygon fill="#3e3764" points="577.8,451.1 579.4,451.3 579.2,452.8 577.8,452.6"/>
<polygon fill="#ffffff" points="667.8,442.2 673.3,441.1 680.0,444.4 678.9,450.0 672.2,450.0 668.3,446.7"/>
<polygon fill="#ffffff" points="637.2,435.6 641.7,436.7 642.2,441.7 638.3,442.2"/>
<polygon fill="#5fa8c8" points="618.9,418.9 625.6,417.8 626.1,422.2 623.3,426.7 621.1,428.9 619.4,424.4"/>
<polygon fill="#5fa8c8" points="630.0,413.3 633.3,414.4 634.4,422.2 633.9,426.7 631.7,426.1 631.1,420.0"/>
<polygon fill="#4f6ab0" points="616.7,431.7 620.0,431.7 620.6,434.4 617.2,434.7"/>
<polygon fill="#4f6ab0" points="617.2,425.6 618.9,425.6 619.1,427.8 617.4,427.8"/>
<polygon fill="#6cb498" points="662.2,416.7 663.9,416.7 664.2,420.6 662.4,420.6"/>
<polygon fill="#4f7ab8" points="660.0,486.1 663.3,486.1 663.3,487.8 660.0,487.8"/>
<polygon fill="#4f7ab8" points="668.9,498.9 671.1,498.9 671.1,500.6 668.9,500.6"/>
<polygon fill="#4f7ab8" points="680.0,507.2 682.8,507.2 682.8,508.7 680.0,508.7"/>
<polygon fill="#7cbc98" points="685.6,491.1 692.2,492.2 692.2,495.6 686.7,495.0"/>
<polygon fill="#4f4590" points="520.0,491.7 525.6,492.2 525.0,495.0 520.6,495.0"/>
<polygon fill="#2e2852" points="528.9,492.8 532.2,492.8 532.0,495.0 529.1,495.0"/>
<polygon fill="#4f4590" points="534.4,496.7 538.9,497.2 537.8,502.2 534.4,501.1"/>
<polygon fill="#4f4590" points="541.1,498.9 545.0,500.0 544.4,505.6 541.3,505.0"/>
<polygon fill="#4a70b0" points="520.0,503.3 525.6,504.4 530.6,511.1 528.9,518.9 525.6,521.1 522.2,516.7 522.2,510.0"/>
<polygon fill="#4a70b0" points="536.1,510.6 540.6,511.1 543.9,514.4 541.1,519.4 537.2,517.8"/>
<polygon fill="#4f4590" points="556.1,517.8 561.1,518.9 562.2,523.3 557.8,524.4"/>
<polygon fill="#4f86b4" points="562.2,527.8 563.9,527.8 563.9,531.1 562.2,531.1"/>
<polygon fill="#4f4590" points="575.6,540.6 578.9,541.7 578.3,543.9 575.6,542.8"/>
<polygon fill="#4f4590" points="497.8,481.1 500.6,481.7 501.1,484.4 498.3,484.4"/>
<polygon fill="#4f4590" points="506.7,480.0 510.0,481.1 511.1,484.4 506.7,484.4"/>
<polygon fill="#4f4590" points="503.3,490.0 508.9,489.4 510.0,492.2 504.4,492.8"/>
<polygon fill="#4f4590" points="513.3,488.9 520.0,490.0 518.9,492.8 513.3,492.2"/>
<polygon fill="#4f4590" points="518.9,492.2 526.7,493.3 525.6,496.7 519.4,495.6"/>
<polygon fill="#4f4590" points="528.9,493.3 531.7,493.3 531.7,496.7 528.9,496.7"/>
<polygon fill="#4f4590" points="535.6,496.7 538.9,496.7 537.8,499.4 535.6,498.9"/>
<polygon fill="#4f4590" points="541.1,498.9 545.0,500.0 543.9,505.6 541.1,505.0"/>
<polygon fill="#4f4590" points="521.1,503.3 526.7,503.9 527.8,508.9 522.2,508.9"/>
<polygon fill="#5a8ec0" points="476.0,384.0 482.0,383.0 490.0,388.0 488.0,392.0 478.0,390.0"/>
</g>
<polygon fill="#000" points="671.7,472.8 676.1,477.2 671.7,481.7 667.2,477.2"/>
</g>
<rect x="148" y="72" width="800" height="800" fill="none" stroke="#000" stroke-width="2"/>
<line x1="137" y1="105.8" x2="148" y2="105.8" stroke="#000" stroke-width="2"/>
<text transform="translate(128,115.8) scale(1,1.04)" font-size="28" text-anchor="end">41.5</text>
<line x1="137" y1="283.4" x2="148" y2="283.4" stroke="#000" stroke-width="2"/>
<text transform="translate(128,293.4) scale(1,1.04)" font-size="28" text-anchor="end">41.0</text>
<line x1="137" y1="461.0" x2="148" y2="461.0" stroke="#000" stroke-width="2"/>
<text transform="translate(128,471.0) scale(1,1.04)" font-size="28" text-anchor="end">40.5</text>
<line x1="137" y1="638.8" x2="148" y2="638.8" stroke="#000" stroke-width="2"/>
<text transform="translate(128,648.8) scale(1,1.04)" font-size="28" text-anchor="end">40.0</text>
<line x1="137" y1="816.3" x2="148" y2="816.3" stroke="#000" stroke-width="2"/>
<text transform="translate(128,826.3) scale(1,1.04)" font-size="28" text-anchor="end">39.5</text>
<line x1="330.6" y1="872" x2="330.6" y2="883" stroke="#000" stroke-width="2"/>
<text transform="translate(331.1,915) scale(1,1.04)" font-size="28" text-anchor="middle"><tspan dy="2.7">−</tspan><tspan dy="-2.7">108</tspan></text>
<line x1="602.2" y1="872" x2="602.2" y2="883" stroke="#000" stroke-width="2"/>
<text transform="translate(602.7,915) scale(1,1.04)" font-size="28" text-anchor="middle"><tspan dy="2.7">−</tspan><tspan dy="-2.7">107</tspan></text>
<line x1="873.4" y1="872" x2="873.4" y2="883" stroke="#000" stroke-width="2"/>
<text transform="translate(873.9,915) scale(1,1.04)" font-size="28" text-anchor="middle"><tspan dy="2.7">−</tspan><tspan dy="-2.7">106</tspan></text>
<text transform="translate(547.7,57.8) scale(1,1.07)" font-size="28" font-weight="bold" text-anchor="middle">SEA-POL 20250331 1022-1027 UTC Composite Reflectivity</text>
<text transform="translate(548.2,953.2) scale(1,1.04)" font-size="28" text-anchor="middle">Longitude</text>
<text transform="translate(57.9,471.7) rotate(-90) scale(1,1.04)" font-size="28" text-anchor="middle">Latitude</text>
<text transform="translate(1110,471.8) rotate(-90) scale(1,1.04)" font-size="28" text-anchor="middle">dBZ</text>
<linearGradient id="cbg" x1="0" y1="1" x2="0" y2="0"><stop offset="0.000%" stop-color="#030205"/><stop offset="1.818%" stop-color="#030205"/><stop offset="1.818%" stop-color="#0f0e14"/><stop offset="3.636%" stop-color="#0f0e14"/><stop offset="3.636%" stop-color="#191620"/><stop offset="5.455%" stop-color="#191620"/><stop offset="5.455%" stop-color="#231e32"/><stop offset="7.273%" stop-color="#231e32"/><stop offset="7.273%" stop-color="#2a243c"/><stop offset="9.091%" stop-color="#2a243c"/><stop offset="9.091%" stop-color="#2d2846"/><stop offset="10.909%" stop-color="#2d2846"/><stop offset="10.909%" stop-color="#373255"/><stop offset="12.727%" stop-color="#373255"/><stop offset="12.727%" stop-color="#3e3764"/><stop offset="14.545%" stop-color="#3e3764"/><stop offset="14.545%" stop-color="#463c6e"/><stop offset="16.364%" stop-color="#463c6e"/><stop offset="16.364%" stop-color="#50467d"/><stop offset="18.182%" stop-color="#50467d"/><stop offset="18.182%" stop-color="#5a4b8c"/><stop offset="20.000%" stop-color="#5a4b8c"/><stop offset="20.000%" stop-color="#6450a0"/><stop offset="21.818%" stop-color="#6450a0"/><stop offset="21.818%" stop-color="#695faf"/><stop offset="23.636%" stop-color="#695faf"/><stop offset="23.636%" stop-color="#5a6eb9"/><stop offset="25.455%" stop-color="#5a6eb9"/><stop offset="25.455%" stop-color="#467dbe"/><stop offset="27.273%" stop-color="#467dbe"/><stop offset="27.273%" stop-color="#4187be"/><stop offset="29.091%" stop-color="#4187be"/><stop offset="29.091%" stop-color="#4196af"/><stop offset="30.909%" stop-color="#4196af"/><stop offset="30.909%" stop-color="#4ba5a0"/><stop offset="32.727%" stop-color="#4ba5a0"/><stop offset="32.727%" stop-color="#5aaf96"/><stop offset="34.545%" stop-color="#5aaf96"/><stop offset="34.545%" stop-color="#6eb991"/><stop offset="36.364%" stop-color="#6eb991"/><stop offset="36.364%" stop-color="#87c391"/><stop offset="38.182%" stop-color="#87c391"/><stop offset="38.182%" stop-color="#9bcd91"/><stop offset="40.000%" stop-color="#9bcd91"/><stop offset="40.000%" stop-color="#afd791"/><stop offset="41.818%" stop-color="#afd791"/><stop offset="41.818%" stop-color="#c8e18c"/><stop offset="43.636%" stop-color="#c8e18c"/><stop offset="43.636%" stop-color="#dce691"/><stop offset="45.455%" stop-color="#dce691"/><stop offset="45.455%" stop-color="#e4f0a5"/><stop offset="47.273%" stop-color="#e4f0a5"/><stop offset="47.273%" stop-color="#f5f5b4"/><stop offset="49.091%" stop-color="#f5f5b4"/><stop offset="49.091%" stop-color="#fcfab9"/><stop offset="50.909%" stop-color="#fcfab9"/><stop offset="50.909%" stop-color="#f5e8a5"/><stop offset="52.727%" stop-color="#f5e8a5"/><stop offset="52.727%" stop-color="#f0dc91"/><stop offset="54.545%" stop-color="#f0dc91"/><stop offset="54.545%" stop-color="#eecd7d"/><stop offset="56.364%" stop-color="#eecd7d"/><stop offset="56.364%" stop-color="#ecbe73"/><stop offset="58.182%" stop-color="#ecbe73"/><stop offset="58.182%" stop-color="#ecaa64"/><stop offset="60.000%" stop-color="#ecaa64"/><stop offset="60.000%" stop-color="#ec9b5a"/><stop offset="61.818%" stop-color="#ec9b5a"/><stop offset="61.818%" stop-color="#ec874b"/><stop offset="63.636%" stop-color="#ec874b"/><stop offset="63.636%" stop-color="#ee7d46"/><stop offset="65.455%" stop-color="#ee7d46"/><stop offset="65.455%" stop-color="#eb6941"/><stop offset="67.273%" stop-color="#eb6941"/><stop offset="67.273%" stop-color="#e15a41"/><stop offset="69.091%" stop-color="#e15a41"/><stop offset="69.091%" stop-color="#d74646"/><stop offset="70.909%" stop-color="#d74646"/><stop offset="70.909%" stop-color="#c83746"/><stop offset="72.727%" stop-color="#c83746"/><stop offset="72.727%" stop-color="#b92346"/><stop offset="74.545%" stop-color="#b92346"/><stop offset="74.545%" stop-color="#aa1441"/><stop offset="76.364%" stop-color="#aa1441"/><stop offset="76.364%" stop-color="#a00046"/><stop offset="78.182%" stop-color="#a00046"/><stop offset="78.182%" stop-color="#aa1e64"/><stop offset="80.000%" stop-color="#aa1e64"/><stop offset="80.000%" stop-color="#c32d82"/><stop offset="81.818%" stop-color="#c32d82"/><stop offset="81.818%" stop-color="#d74191"/><stop offset="83.636%" stop-color="#d74191"/><stop offset="83.636%" stop-color="#e164a5"/><stop offset="85.455%" stop-color="#e164a5"/><stop offset="85.455%" stop-color="#e67daf"/><stop offset="87.273%" stop-color="#e67daf"/><stop offset="87.273%" stop-color="#e19bd2"/><stop offset="89.091%" stop-color="#e19bd2"/><stop offset="89.091%" stop-color="#af87c3"/><stop offset="90.909%" stop-color="#af87c3"/><stop offset="90.909%" stop-color="#a06eaf"/><stop offset="92.727%" stop-color="#a06eaf"/><stop offset="92.727%" stop-color="#8c50a0"/><stop offset="94.545%" stop-color="#8c50a0"/><stop offset="94.545%" stop-color="#692378"/><stop offset="96.364%" stop-color="#692378"/><stop offset="96.364%" stop-color="#52105f"/><stop offset="98.182%" stop-color="#52105f"/><stop offset="98.182%" stop-color="#3f0a4c"/><stop offset="100.000%" stop-color="#3f0a4c"/></linearGradient>
<rect x="984" y="72" width="24" height="800" fill="url(#cbg)"/>
<rect x="984" y="72" width="24" height="800" fill="none" stroke="#000" stroke-width="2"/>
<line x1="1008" y1="872.00" x2="1019" y2="872.00" stroke="#000" stroke-width="2"/>
<text transform="translate(1026.2,882.40) scale(1,1.04)" font-size="28"><tspan dy="2.7">−</tspan><tspan dy="-2.7">10</tspan></text>
<line x1="1008" y1="799.27" x2="1019" y2="799.27" stroke="#000" stroke-width="2"/>
<text transform="translate(1026.2,809.67) scale(1,1.04)" font-size="28"><tspan dy="2.7">−</tspan><tspan dy="-2.7">5</tspan></text>
<line x1="1008" y1="726.55" x2="1019" y2="726.55" stroke="#000" stroke-width="2"/>
<text transform="translate(1026.2,736.95) scale(1,1.04)" font-size="28">0</text>
<line x1="1008" y1="653.82" x2="1019" y2="653.82" stroke="#000" stroke-width="2"/>
<text transform="translate(1026.2,664.22) scale(1,1.04)" font-size="28">5</text>
<line x1="1008" y1="581.09" x2="1019" y2="581.09" stroke="#000" stroke-width="2"/>
<text transform="translate(1026.2,591.49) scale(1,1.04)" font-size="28">10</text>
<line x1="1008" y1="508.36" x2="1019" y2="508.36" stroke="#000" stroke-width="2"/>
<text transform="translate(1026.2,518.76) scale(1,1.04)" font-size="28">15</text>
<line x1="1008" y1="435.64" x2="1019" y2="435.64" stroke="#000" stroke-width="2"/>
<text transform="translate(1026.2,446.04) scale(1,1.04)" font-size="28">20</text>
<line x1="1008" y1="362.91" x2="1019" y2="362.91" stroke="#000" stroke-width="2"/>
<text transform="translate(1026.2,373.31) scale(1,1.04)" font-size="28">25</text>
<line x1="1008" y1="290.18" x2="1019" y2="290.18" stroke="#000" stroke-width="2"/>
<text transform="translate(1026.2,300.58) scale(1,1.04)" font-size="28">30</text>
<line x1="1008" y1="217.45" x2="1019" y2="217.45" stroke="#000" stroke-width="2"/>
<text transform="translate(1026.2,227.85) scale(1,1.04)" font-size="28">35</text>
<line x1="1008" y1="144.73" x2="1019" y2="144.73" stroke="#000" stroke-width="2"/>
<text transform="translate(1026.2,155.13) scale(1,1.04)" font-size="28">40</text>
<line x1="1008" y1="72.00" x2="1019" y2="72.00" stroke="#000" stroke-width="2"/>
<text transform="translate(1026.2,82.40) scale(1,1.04)" font-size="28">45</text>
</svg></body></html>
